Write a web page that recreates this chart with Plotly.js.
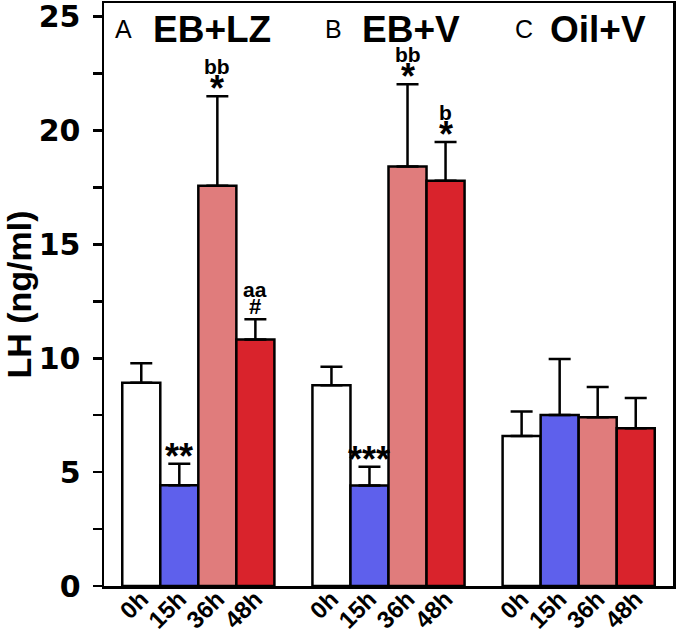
<!DOCTYPE html>
<html>
<head>
<meta charset="utf-8">
<script src="https://cdn.plot.ly/plotly-3.0.1.min.js"></script>
<style>html,body{margin:0;padding:0;background:#fff;}#chart{width:677px;height:633px;}</style>
</head>
<body>
<div id="chart"></div>
<script>
// ---- data ----
const timeLabels = ['0h', '15h', '36h', '48h'];
const groupNames = ['EB+LZ', 'EB+V', 'Oil+V'];
const panelLetters = ['A', 'B', 'C'];
const ebLZ = [8.93, 4.42, 17.58, 10.82];
const ebV = [8.81, 4.41, 18.42, 17.79];
const oilV = [6.59, 7.51, 7.41, 6.93];
const ebLZErr = [0.85, 0.95, 3.92, 0.89];
const ebVErr = [0.82, 0.83, 3.61, 1.71];
const oilVErr = [1.07, 2.46, 1.33, 1.33];
const sigSymbols = [['', '**', '*', '#'], ['', '***', '*', '*'], ['', '', '', '']];
const sigLetters = [['', '', 'bb', 'aa'], ['', '', 'bb', 'b'], ['', '', '', '']];
const yTickVals = [0, 2.5, 5, 7.5, 10, 12.5, 15, 17.5, 20, 22.5, 25];
const yTickText = ['0', '', '5', '', '10', '', '15', '', '20', '', '25'];

// ---- styles ----
const barColors = ['#ffffff', '#5e60ec', '#e07c7c', '#d9232c'];
const FONT = 'Liberation Sans, Arial, Helvetica, sans-serif';
const WIDEFONT = 'DejaVu Sans, Liberation Sans, Arial, sans-serif';
const groupStep = 5;

const values = [ebLZ, ebV, oilV];
const errs = [ebLZErr, ebVErr, oilVErr];

const traces = timeLabels.map((t, j) => ({
  type: 'bar',
  name: t,
  x: values.map((_, g) => g * groupStep + j),
  y: values.map(v => v[j]),
  width: 1,
  marker: {color: barColors[j], line: {color: '#000', width: 2.5}},
  error_y: {
    type: 'data', symmetric: false,
    array: errs.map(e => e[j]),
    arrayminus: errs.map(() => 0),
    color: '#000', thickness: 2.5, width: 11
  },
  hoverinfo: 'skip'
}));

const tickvals = [], ticktext = [];
values.forEach((_, g) => timeLabels.forEach((t, j) => {
  tickvals.push(g * groupStep + j); ticktext.push(t);
}));

const annotations = [];
values.forEach((v, g) => v.forEach((val, j) => {
  const top = val + errs[g][j];
  const sym = sigSymbols[g][j];
  const let_ = sigLetters[g][j];
  const x = g * groupStep + j;
  if (sym) {
    const isStar = sym.indexOf('*') >= 0;
    annotations.push({
      x: x, y: top, xref: 'x', yref: 'y', text: '<b>' + sym + '</b>', showarrow: false,
      yanchor: 'bottom', yshift: isStar ? -15 : -2,
      font: {family: FONT, size: isStar ? 36 : 22, color: '#000'}
    });
  }
  if (let_) {
    annotations.push({
      x: x, y: top, xref: 'x', yref: 'y', text: '<b>' + let_ + '</b>', showarrow: false,
      yanchor: 'bottom', yshift: 16,
      font: {family: FONT, size: 21, color: '#000'}
    });
  }
}));

const letterX = [0.016, 0.385, 0.718];
const nameX = [0.082, 0.45, 0.78];
groupNames.forEach((n, g) => {
  annotations.push({
    xref: 'paper', yref: 'paper', x: letterX[g], y: 0.955, xanchor: 'left', yanchor: 'middle',
    text: panelLetters[g], showarrow: false, font: {family: FONT, size: 25, color: '#000'}
  });
  annotations.push({
    xref: 'paper', yref: 'paper', x: nameX[g], y: 0.955, xanchor: 'left', yanchor: 'middle',
    text: '<b>' + n + '</b>', showarrow: false, font: {family: FONT, size: 37, color: '#000'}
  });
});

const layout = {
  width: 677, height: 633,
  margin: {l: 104, r: 4, t: 3, b: 47, pad: 0},
  paper_bgcolor: '#fff', plot_bgcolor: '#fff',
  showlegend: false,
  barmode: 'overlay',
  font: {family: FONT, color: '#000'},
  xaxis: {
    range: [-0.98, 13.98], showgrid: false, zeroline: false, automargin: false,
    showline: true, mirror: true, linecolor: '#000', linewidth: 2.5,
    tickmode: 'array', tickvals: tickvals, ticktext: ticktext,
    ticks: '', tickangle: -45, ticklabelstandoff: -13,
    tickfont: {family: FONT, size: 24, color: '#000', weight: 'bold'}
  },
  yaxis: {
    range: [0, 25.6], showgrid: false, zeroline: false, automargin: false,
    showline: true, mirror: true, linecolor: '#000', linewidth: 2.5,
    tickmode: 'array', tickvals: yTickVals, ticktext: yTickText,
    ticks: 'outside', ticklen: 9, tickwidth: 2.5, tickcolor: '#000',
    ticklabelstandoff: 6, ticklabeloverflow: 'allow',
    tickfont: {family: WIDEFONT, size: 30, color: '#000', weight: 'bold'},
    title: {text: '<b>LH (ng/ml)</b>', standoff: 0, font: {family: FONT, size: 34, color: '#000'}}
  },
  annotations: annotations
};

Plotly.newPlot('chart', traces, layout, {displayModeBar: false, staticPlot: true});
</script>
</body>
</html>
